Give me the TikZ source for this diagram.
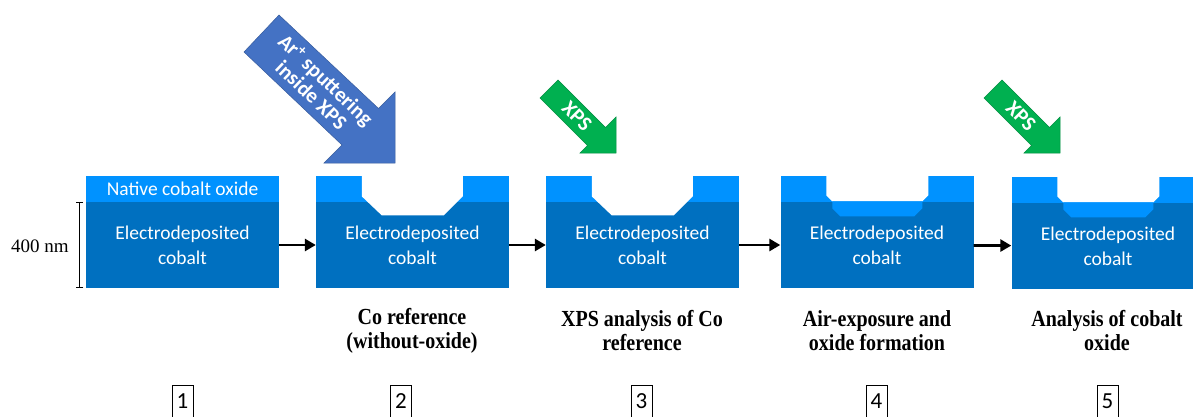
\documentclass[tikz,border=0pt]{standalone}
\usepackage{fontspec}
\setmainfont{Carlito}
\newfontfamily\capfont[FakeStretch=0.87]{Liberation Serif}
\newfontfamily\timesfont{Liberation Serif}
\usetikzlibrary{positioning,arrows.meta}

\definecolor{cobaltblue}{RGB}{0,112,192}
\definecolor{oxideblue}{RGB}{0,146,255}
\definecolor{sputterblue}{RGB}{68,114,196}
\definecolor{xpsgreen}{RGB}{0,176,80}

\tikzset{
  metal/.style={fill=cobaltblue, text=white, minimum width=193pt, minimum height=86pt,
    inner sep=0pt, align=center, font=\fontsize{19.5}{25}\selectfont},
  oxide/.style={fill=oxideblue, text=white, minimum width=193pt, minimum height=26pt,
    inner sep=0pt, font=\fontsize{19.5}{25}\selectfont},
  flow/.style={-{Triangle[length=11pt,width=12pt]}, line width=2.8pt},
  caption/.style={align=center, font=\capfont\bfseries\fontsize{23}{24}\selectfont},
  numbox/.style={draw, line width=0.9pt, minimum width=21pt, minimum height=40pt,
    anchor=north, text height=15pt, text depth=9pt, inner sep=0pt,
    font=\fontsize{23}{23}\selectfont},
  beam/.style={fill=#1, draw=#1!80!black, line width=0.5pt},
  beamtext/.style={text=white, align=center, font=\bfseries\fontsize{21}{21}\selectfont}
}

\begin{document}
\begin{tikzpicture}[x=1pt, y=-1pt]
  \useasboundingbox (0,0) rectangle (1193,417);
  \clip (0,0) rectangle (1193,417);

  % cobalt films with their top oxide layer
  \node[metal] (co1) at (182.5,245) {Electrodeposited\\cobalt};
  \node[metal] (co2) at (412.5,245) {Electrodeposited\\cobalt};
  \node[metal] (co3) at (642.5,245) {Electrodeposited\\cobalt};
  \node[metal] (co4) at (877,245)   {Electrodeposited\\cobalt};
  \node[metal] (co5) at (1108,246)  {Electrodeposited\\cobalt};
  \node[oxide, above=0pt of co1] (ox1) {Native cobalt oxide};
  \foreach \i in {2,...,5}
    \node[oxide, above=0pt of co\i] (ox\i) {};

  % sputtered craters
  \foreach \i in {2,3}
    \fill[white] (ox\i.north west) ++(46,0) -- ++(0,21) -- ++(20,19) -- ++(62,0)
      -- ++(19,-19) -- ++(0,-21) -- cycle;
  % craters with the re-grown oxide
  \foreach \i in {4,5} {
    \fill[white] (ox\i.north west) ++(46,0) -- ++(0,20) -- ++(6,6) -- ++(90,0)
      -- ++(6,-6) -- ++(0,-20) -- cycle;
    \fill[oxideblue] (ox\i.north west) ++(52,26) -- ++(0,7) -- ++(8,8) -- ++(74,0)
      -- ++(8,-8) -- ++(0,-7) -- cycle;
  }

  % process arrows
  \draw[flow] (co1) -- (co2);
  \draw[flow] (co2) -- (co3);
  \draw[flow] (co3) -- (co4);
  \draw[flow] (co4) -- (co5);

  % film thickness
  \draw[{Bar[width=7pt]}-{Bar[width=7pt]}, line width=0.8pt]
    ([xshift=-6pt]co1.north west) -- ([xshift=-6pt]co1.south west);
  \node[font=\timesfont\fontsize{19}{19}\selectfont] (thick) at (40,246) {400 nm};

  % Ar+ beam
  \fill[beam=sputterblue] (279,15) -- (378.5,108.5) -- (395,92) -- (395,163)
    -- (324,163) -- (342,145) -- (244,52) -- cycle;
  \node[beamtext, rotate=-43.5] (sputter) at (319,87)
    {Ar\textsuperscript{+} sputtering\\inside XPS};

  % XPS beams
  \foreach \s/\n in {0/a,444/b} {
    \begin{scope}[xshift=\s]
      \fill[beam=xpsgreen] (558,80) -- (605.5,127.5) -- (616,117) -- (616,153)
        -- (580,153) -- (587.5,145.5) -- (540,98) -- cycle;
      \node[beamtext, rotate=-45] (xps\n) at (577,116) {XPS};
    \end{scope}
  }

  % step captions
  \node[caption] (cap2) at (412,331) {Co reference\\(without-oxide)};
  \node[caption] (cap3) at (642,331) {XPS analysis of Co\\reference};
  \node[caption] (cap4) at (877,331) {Air-exposure and\\oxide formation};
  \node[caption] (cap5) at (1107,331) {Analysis of cobalt\\oxide};

  % step numbers
  \node[numbox] (n1) at (182.5,385) {1};
  \node[numbox] (n2) at (401,385)   {2};
  \node[numbox] (n3) at (641.5,385) {3};
  \node[numbox] (n4) at (876.5,385) {4};
  \node[numbox] (n5) at (1107.5,385) {5};
\end{tikzpicture}
\end{document}
